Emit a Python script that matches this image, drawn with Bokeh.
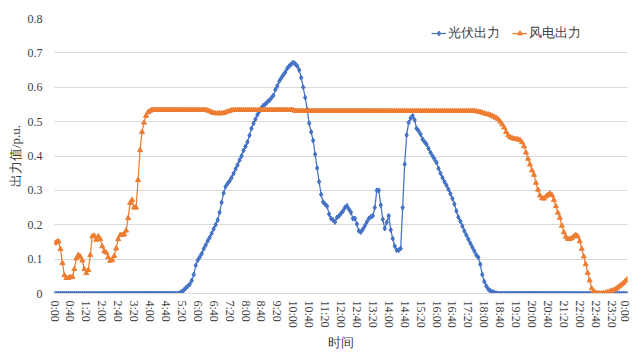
from bokeh.plotting import figure
from bokeh.models import Range1d, FixedTicker, Legend, LegendItem
from bokeh.embed import file_html
from bokeh.resources import INLINE

# 5-minute samples, 0:00 .. 24:00 (289 points)
pv = ([0.0] * 63 + [
    0.002, 0.005, 0.010, 0.016, 0.021, 0.027, 0.038, 0.055, 0.082, 0.097,
    0.106, 0.116, 0.130, 0.141, 0.153, 0.163, 0.175, 0.188, 0.200, 0.214,
    0.236, 0.265, 0.292, 0.311, 0.320, 0.327, 0.337, 0.349, 0.362, 0.374,
    0.388, 0.400, 0.416, 0.428, 0.441, 0.460, 0.480, 0.495, 0.507, 0.520,
    0.530, 0.540, 0.547, 0.551, 0.557, 0.562, 0.569, 0.576, 0.593, 0.604,
    0.618, 0.627, 0.636, 0.644, 0.655, 0.662, 0.667, 0.672, 0.668, 0.662,
    0.650, 0.628, 0.600, 0.570, 0.535, 0.495, 0.470, 0.445, 0.405, 0.365,
    0.325, 0.288, 0.266, 0.260, 0.254, 0.231, 0.218, 0.214, 0.208, 0.221,
    0.226, 0.233, 0.240, 0.250, 0.255, 0.245, 0.236, 0.218, 0.218, 0.202,
    0.182, 0.179, 0.187, 0.197, 0.208, 0.218, 0.223, 0.226, 0.250, 0.300,
    0.300, 0.257, 0.216, 0.189, 0.207, 0.226, 0.185, 0.160, 0.138, 0.126,
    0.126, 0.131, 0.250, 0.376, 0.461, 0.497, 0.510, 0.517, 0.505, 0.480,
    0.473, 0.463, 0.449, 0.441, 0.434, 0.422, 0.410, 0.400, 0.391, 0.381,
    0.364, 0.350, 0.337, 0.325, 0.315, 0.303, 0.290, 0.276, 0.260, 0.240,
    0.222, 0.210, 0.196, 0.182, 0.170, 0.158, 0.146, 0.135, 0.124, 0.112,
    0.105, 0.085, 0.055, 0.035, 0.022, 0.013, 0.008, 0.005, 0.003, 0.001,
] + [0.0] * 66)

wind = ([
    0.146, 0.150, 0.152, 0.129, 0.088, 0.053, 0.045, 0.045, 0.048, 0.048,
    0.071, 0.102, 0.112, 0.107, 0.096, 0.071, 0.059, 0.068, 0.112, 0.166,
    0.168, 0.156, 0.166, 0.158, 0.137, 0.123, 0.119, 0.105, 0.095, 0.098,
    0.109, 0.131, 0.158, 0.170, 0.170, 0.172, 0.183, 0.219, 0.263, 0.272,
    0.250, 0.250, 0.330, 0.417, 0.470, 0.497, 0.517, 0.527, 0.531,
] + [0.534] * 28 + [
    0.532, 0.530, 0.527, 0.525, 0.524, 0.524, 0.524, 0.524, 0.525, 0.527,
    0.529, 0.531, 0.533,
] + [0.534] * 31 + [0.531] * 90 + [
    0.531, 0.530, 0.529, 0.528, 0.526, 0.524, 0.522, 0.521, 0.519, 0.517,
    0.514, 0.511, 0.507, 0.500, 0.492, 0.483, 0.470, 0.460, 0.455, 0.452,
    0.450, 0.449, 0.448, 0.446, 0.440, 0.428, 0.410, 0.392, 0.375, 0.358,
    0.345, 0.322, 0.302, 0.285, 0.277, 0.276, 0.282, 0.287, 0.291, 0.286,
    0.272, 0.254, 0.235, 0.220, 0.197, 0.178, 0.165, 0.159, 0.158, 0.161,
    0.166, 0.170, 0.166, 0.152, 0.130, 0.108, 0.085, 0.060, 0.038, 0.015,
    0.006, 0.002, 0.001, 0.000, 0.000, 0.001, 0.002, 0.004, 0.006, 0.008,
    0.010, 0.013, 0.017, 0.021, 0.026, 0.031, 0.037, 0.042,
])

tick_labels = ["0:00", "0:40", "1:20", "2:00", "2:40", "3:20", "4:00", "4:40",
               "5:20", "6:00", "6:40", "7:20", "8:00", "8:40", "9:20", "10:00",
               "10:40", "11:20", "12:00", "12:40", "13:20", "14:00", "14:40",
               "15:20", "16:00", "16:40", "17:20", "18:00", "18:40", "19:20",
               "20:00", "20:40", "21:20", "22:00", "22:40", "23:20", "0:00"]

xs = list(range(len(pv)))

FONT = "Liberation Serif"
TXT = "#404040"

p = figure(frame_width=573, frame_height=275, output_backend="svg",
           toolbar_location=None,
           x_range=Range1d(0, 288), y_range=Range1d(0, 0.8),
           min_border_left=54, min_border_right=4, min_border_top=18,
           min_border_bottom=10)
p.outline_line_color = None
p.background_fill_color = "white"

tick_pos = list(range(0, 289, 8))
p.xaxis.ticker = FixedTicker(ticks=tick_pos)
p.xaxis.major_label_overrides = {t: lab for t, lab in zip(tick_pos, tick_labels)}
p.xaxis.major_label_orientation = "vertical"
p.yaxis.ticker = FixedTicker(ticks=[0, 0.1, 0.2, 0.3, 0.4, 0.5, 0.6, 0.7, 0.8])
p.yaxis.major_label_overrides = {0: "0"}

for ax in (p.xaxis, p.yaxis):
    ax.major_tick_line_color = None
    ax.minor_tick_line_color = None
    ax.major_tick_out = 0
    ax.major_tick_in = 0
    ax.major_label_text_font = FONT
    ax.major_label_text_font_size = "12px"
    ax.major_label_text_color = TXT
    ax.axis_label_text_font = FONT
    ax.axis_label_text_font_style = "normal"
    ax.axis_label_text_font_size = "13px"
    ax.axis_label_text_color = TXT

p.xaxis.axis_line_color = "#D9D9D9"
p.yaxis.axis_line_color = None
p.xaxis.major_label_standoff = 7
p.yaxis.major_label_standoff = 12
p.xaxis.axis_label = "时间"
p.yaxis.axis_label = "出力值/p.u."
p.xaxis.axis_label_standoff = 4
p.yaxis.axis_label_standoff = 2

p.xgrid.grid_line_color = None
p.ygrid.grid_line_color = "#D9D9D9"
p.ygrid.grid_line_width = 1

blue = "#4472C4"
orange = "#ED7D31"

l1 = p.line(xs, pv, line_color=blue, line_width=1.25)
m1 = p.scatter(xs, pv, marker="diamond", size=5, fill_color=blue, line_color=blue)
l2 = p.line(xs, wind, line_color=orange, line_width=1.25)
m2 = p.scatter(xs, wind, marker="triangle", size=5, fill_color=orange, line_color=orange)

legend = Legend(items=[LegendItem(label="光伏出力", renderers=[l1, m1]),
                       LegendItem(label="风电出力", renderers=[l2, m2])],
                orientation="horizontal", location=(377, 251),
                background_fill_alpha=0, border_line_color=None,
                label_text_font=FONT, label_text_font_size="13px",
                label_text_color=TXT, glyph_width=15, glyph_height=12,
                label_standoff=2, spacing=12, padding=0, margin=0)
p.add_layout(legend, "center")

open("out.html", "w").write(file_html(p, INLINE))
